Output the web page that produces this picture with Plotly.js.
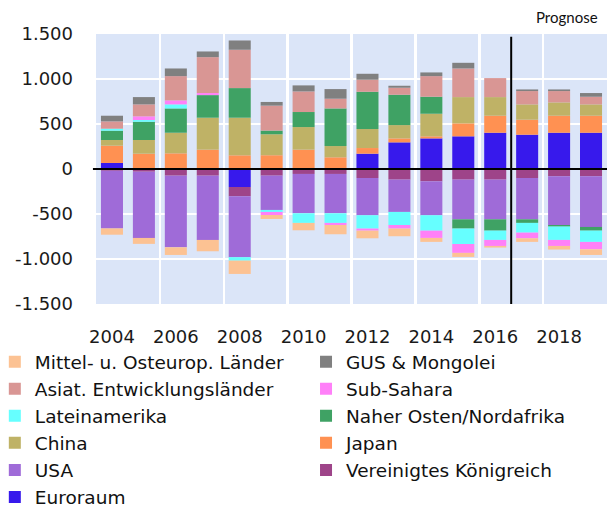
<!DOCTYPE html>
<html>
<head>
<meta charset="utf-8">
<script src="https://cdn.plot.ly/plotly-3.0.1.min.js"></script>
<style>html,body{margin:0;padding:0;background:#fff;}#chart{width:612px;height:511px;}</style>
</head>
<body>
<div id="chart"></div>
<script>
// Categories
const years = [2004, 2005, 2006, 2007, 2008, 2009, 2010, 2011, 2012, 2013, 2014, 2015, 2016, 2017, 2018, 2019];
const xTickVals = [2004, 2006, 2008, 2010, 2012, 2014, 2016, 2018];
const yTickVals = [-1500, -1000, -500, 0, 500, 1000, 1500];
const yTickText = ['-1.500', '-1.000', '-500', '0', '500', '1.000', '1.500'];

// Series values
const euroraum   = [67, 0, 0, 0, -200, 5, 0, 0, 170, 296, 340, 363, 403, 381, 403, 403];
const vk         = [-20, -30, -74, -74, -103, -74, -55, -55, -100, -118, -137, -118, -118, -100, -81, -81];
const usa        = [-640, -736, -796, -714, -677, -381, -437, -437, -414, -359, -377, -441, -441, -459, -541, -563];
const japan      = [192, 170, 174, 215, 152, 148, 215, 130, 63, 44, 23, 144, 189, 167, 189, 189];
const china      = [63, 152, 229, 355, 418, 233, 251, 125, 211, 148, 251, 292, 207, 170, 148, 126];
const naherOsten = [104, 203, 270, 251, 329, 41, 167, 418, 414, 337, 189, -103, -126, -40, -18, -41];
const latein     = [22, 19, 45, 0, -38, -22, -107, -107, -148, -145, -171, -171, -103, -108, -148, -125];
const subSahara  = [0, 41, 44, 23, 0, -34, 0, -23, -23, -40, -81, -99, -67, -63, -67, -82];
const asiat      = [81, 133, 270, 399, 426, 277, 229, 108, 134, 78, 229, 318, 211, 148, 126, 85];
const gus        = [63, 81, 85, 63, 103, 41, 67, 107, 66, 22, 41, 63, 0, 18, 18, 41];
const mittel     = [-70, -66, -85, -126, -148, -44, -82, -103, -85, -85, -44, -45, -18, -40, -40, -63];

const series = [
  {name: 'Euroraum', y: euroraum, color: '#3719ec', legend: 'legend', rank: 6},
  {name: 'Vereinigtes Königreich', y: vk, color: '#9e4489', legend: 'legend2', rank: 5},
  {name: 'USA', y: usa, color: '#9f6bd8', legend: 'legend', rank: 5},
  {name: 'Japan', y: japan, color: '#ff9152', legend: 'legend2', rank: 4},
  {name: 'China', y: china, color: '#bfb266', legend: 'legend', rank: 4},
  {name: 'Naher Osten/Nordafrika', y: naherOsten, color: '#3fa264', legend: 'legend2', rank: 3},
  {name: 'Lateinamerika', y: latein, color: '#66ffff', legend: 'legend', rank: 3},
  {name: 'Sub-Sahara', y: subSahara, color: '#ff80f8', legend: 'legend2', rank: 2},
  {name: 'Asiat. Entwicklungsländer', y: asiat, color: '#d99694', legend: 'legend', rank: 2},
  {name: 'GUS & Mongolei', y: gus, color: '#808080', legend: 'legend2', rank: 1},
  {name: 'Mittel- u. Osteurop. Länder', y: mittel, color: '#fcc293', legend: 'legend', rank: 1}
];

const traces = series.map(s => ({
  type: 'bar',
  name: s.name,
  x: years,
  y: s.y,
  marker: {color: s.color, line: {width: 0}},
  legend: s.legend,
  legendrank: s.rank,
  hoverinfo: 'x+y+name'
}));

const legendFont = {family: 'DejaVu Sans, sans-serif', size: 18.5, color: '#111'};

const layout = {
  width: 612,
  height: 511,
  margin: {l: 96, r: 5, t: 34, b: 207, autoexpand: false},
  paper_bgcolor: '#ffffff',
  plot_bgcolor: '#dbe5f8',
  barmode: 'relative',
  bargap: 0.31,
  showlegend: true,
  font: {family: 'DejaVu Sans, sans-serif', size: 18, color: '#1a1a1a'},
  xaxis: {
    range: [2003.5, 2019.5],
    tickmode: 'array',
    tickvals: xTickVals,
    ticktext: xTickVals.map(String),
    showgrid: false,
    zeroline: false,
    showline: false,
    ticks: '',
    ticklabelstandoff: 20,
    tickfont: {family: 'DejaVu Sans, sans-serif', size: 18, color: '#1a1a1a'},
    minor: {tickmode: 'linear', tick0: 2003.5, dtick: 2, showgrid: true, gridcolor: '#ffffff', gridwidth: 2.5, ticks: ''}
  },
  yaxis: {
    range: [-1500, 1500],
    tickmode: 'array',
    tickvals: yTickVals,
    ticktext: yTickText,
    showgrid: true,
    gridcolor: '#ffffff',
    gridwidth: 2.5,
    zeroline: false,
    showline: false,
    ticks: '',
    ticklabelstandoff: 22,
    tickfont: {family: 'DejaVu Sans, sans-serif', size: 18, color: '#1a1a1a'}
  },
  legend: {
    x: -0.198, xanchor: 'left', y: -0.145, yanchor: 'top',
    orientation: 'v', bgcolor: 'rgba(0,0,0,0)', font: legendFont, traceorder: 'normal'
  },
  legend2: {
    x: 0.411, xanchor: 'left', y: -0.145, yanchor: 'top',
    orientation: 'v', bgcolor: 'rgba(0,0,0,0)', font: legendFont, traceorder: 'normal'
  },
  shapes: [
    {type: 'line', xref: 'paper', yref: 'y', x0: -0.006, x1: 1, y0: 0, y1: 0, line: {color: '#000', width: 2}, layer: 'above'},
    {type: 'line', xref: 'x', yref: 'y', x0: 2016.5, x1: 2016.5, y0: -1500, y1: 1470, line: {color: '#000', width: 2}, layer: 'above'}
  ],
  annotations: [
    {text: 'Prognose', xref: 'paper', yref: 'paper', x: 0.986, y: 1.063, xanchor: 'right', yanchor: 'middle',
     showarrow: false, font: {family: 'Lato, sans-serif', size: 15, color: '#111'}}
  ]
};

Plotly.newPlot('chart', traces, layout, {displayModeBar: false, staticPlot: true});
</script>
</body>
</html>
